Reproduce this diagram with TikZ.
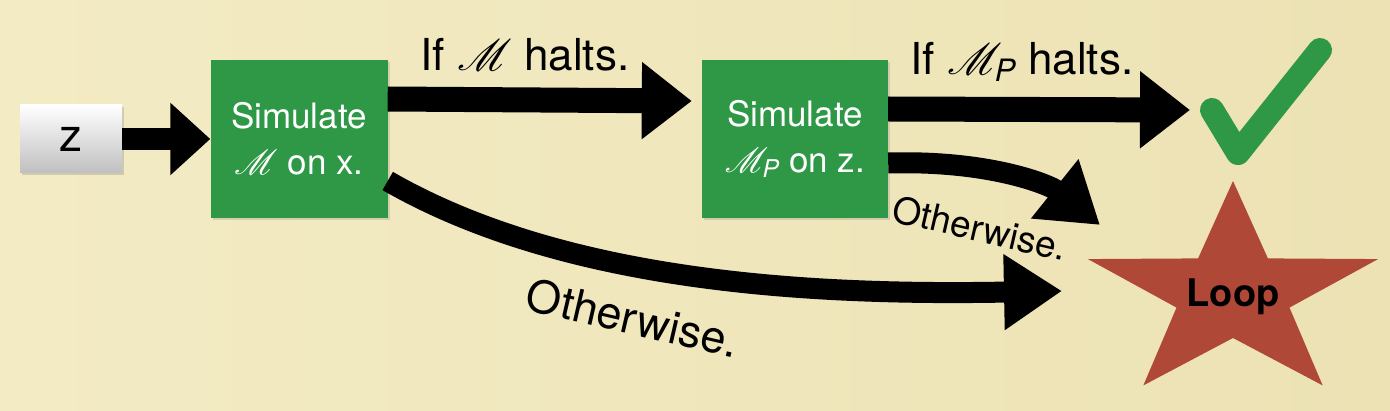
\RequirePackage{fix-cm}
\documentclass[tikz,border=0pt]{standalone}
\usepackage{amsmath}
\usepackage{mathrsfs}
\DeclareFontFamily{U}{rsfs}{\skewchar\font127 }
\DeclareFontShape{U}{rsfs}{m}{n}{<-> rsfs10}{}
\usepackage{fontspec}
\setmainfont{TeX Gyre Heros}
\usetikzlibrary{arrows.meta,shadows}
\definecolor{paper}{RGB}{243,235,196}
\definecolor{paperdark}{RGB}{236,226,180}
\definecolor{simgreen}{RGB}{46,152,70}
\definecolor{starred}{RGB}{176,72,56}
\tikzset{
  simbox/.style={fill=simgreen,text=white,minimum width=180pt,minimum height=158pt,
    align=center,font=\fontsize{35}{46}\selectfont,
    drop shadow={opacity=0.25,shadow xshift=2pt,shadow yshift=-2pt}},
  bigarrow/.style={line width=25pt,-{Triangle[length=50pt,width=74pt]}},
  thinarrow/.style={line width=21pt,-{Triangle[length=58pt,width=72pt]}},
  halts/.style={font=\fontsize{44}{50}\selectfont},
}
\begin{document}
\begin{tikzpicture}[x=1pt,y=-1pt]

%paper
\shade [left color=paper,right color=paperdark] (0,0) rectangle (1390,411) ;
\useasboundingbox (0,0) rectangle (1390,411) ;

%input
\node [top color=white,bottom color=black!25,minimum width=102pt,minimum height=68pt,
  font=\fontsize{46}{50}\selectfont,
  drop shadow={opacity=0.3,shadow xshift=2pt,shadow yshift=-2pt}] (z) at (71,139) {z} ;

%simulators
\node [simbox,minimum width=177pt] (sim1) at (299,139) {Simulate\\$\mathscr{M}$ on x.} ;
\node [simbox,minimum width=186pt] (sim2) at (795,139) {Simulate\\$\mathscr{M}_{\text{\itshape P}}$ on z.} ;

%outcomes
\coordinate (check) at (1190,110) ;
\coordinate (loopin1) at (1100,225) ;
\coordinate (loopin2) at (1062,291) ;

\draw [simgreen,line width=24pt,line cap=round,line join=round] (1212,110) -- (1238,153) -- (1320,50) ;

\begin{scope}[shift={(1233,294)},xscale=1.35]
\fill [starred] (-90:113) \foreach \a in {-54,18,...,234}{ -- (\a:44) -- (\a+36:113) } -- cycle ;
\end{scope}
\node [font=\fontsize{38}{40}\selectfont\bfseries] (loop) at (1233,297) {Loop} ;

%arrows
\draw [line width=22pt,-{Triangle[length=40pt,width=70pt]}] (z) -- (sim1) ;
\draw [bigarrow] ([yshift=40pt]sim1.east) -- ([xshift=-10pt,yshift=38pt]sim2.west) ;
\draw [bigarrow] ([yshift=30pt]sim2.east) -- (check) ;
\draw [thinarrow] ([yshift=-24pt]sim2.east) .. controls (990,160) and (1050,185) .. (loopin1) ;
\draw [thinarrow] ([yshift=-42pt]sim1.east) .. controls (560,280) and (800,296) .. (loopin2) ;

%labels
\node [halts] (halt1) at (525,55) {If $\mathscr{M}$ halts.} ;
\node [halts] (halt2) at (1022,62) {If $\mathscr{M}_{\text{\itshape P}}$ halts.} ;
\node [rotate=-13,font=\fontsize{37}{40}\selectfont] (other1) at (980,228) {Otherwise.} ;
\node [rotate=-13,font=\fontsize{45}{50}\selectfont] (other2) at (633,318) {Otherwise.} ;

\end{tikzpicture}
\end{document}
